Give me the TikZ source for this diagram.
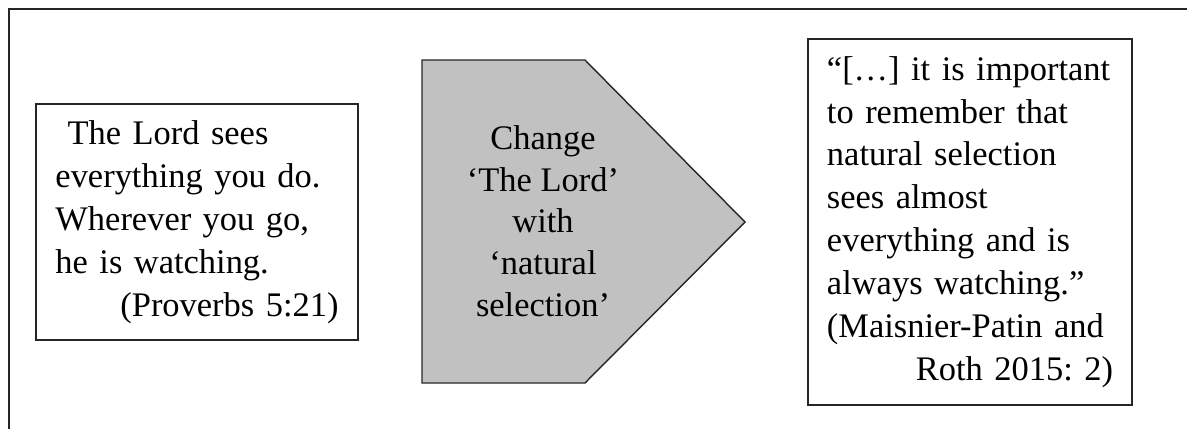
\documentclass[tikz,border=0pt]{standalone}
\usepackage{fontspec}
\setmainfont{Liberation Serif}
\usetikzlibrary{positioning}

\begin{document}
\frenchspacing
\begin{tikzpicture}[
    x=0.025cm, y=-0.025cm,
    font=\fontsize{24.5}{30.5}\selectfont,
    % --- Styles ---
    frame/.style={draw=black!85, line width=1.5pt},
    quotebox/.style={
        rectangle, draw=black!85, line width=1.3pt, fill=white,
        align=left, inner sep=0pt
    },
    swapshape/.style={draw=black!85, line width=1pt, fill=swap_fill},
    swaptext/.style={align=center, inner sep=0pt,
        font=\fontsize{24.5}{29.6}\selectfont}
]

    % ── Colour Palette ──────────────────────────────────────────────────
    \definecolor{swap_fill}{RGB}{193, 193, 193}

    \useasboundingbox (0,0) rectangle (1187,429);

    % ── Outer frame (cut off right and below) ───────────────────────────
    \draw [frame] (9,429) -- (9,9) -- (1187,9);

    % ── NODES ───────────────────────────────────────────────────────────

    % Bible verse
    \node (proverb) [quotebox, minimum width=8.05cm, minimum height=5.9cm,
                     text width=7.075cm] at (197,222)
        {\hspace*{0.35em}The Lord sees \\ everything you do. \\
         Wherever you go, \\ he is watching. \\
         \hspace*{\fill}(Proverbs 5:21)};

    % Substitution arrow
    \coordinate (swap_nw) at (422,60);
    \coordinate (swap_ne) at (585,60);
    \coordinate (swap_tip) at (745,222);
    \coordinate (swap_se) at (585,383);
    \coordinate (swap_sw) at (422,383);
    \draw [swapshape] (swap_nw) -- (swap_ne) -- (swap_tip) -- (swap_se)
        -- (swap_sw) -- cycle;
    \node (swap) [swaptext] at (543,221)
        {Change \\ `The Lord' \\ with \\ `natural \\ selection'};

    % Quotation
    \node (quote) [quotebox, minimum width=8.1cm, minimum height=9.15cm,
                   text width=7.15cm] at (970,222)
        {\hyphenpenalty=10000
         ``[\dots] it is important \\ to remember that \\
         natural selection \\ sees almost \\ everything and is \\
         always watching.'' \\ (Maisnier-Patin and \\
         \hspace*{\fill}Roth 2015: 2)};

\end{tikzpicture}
\end{document}
